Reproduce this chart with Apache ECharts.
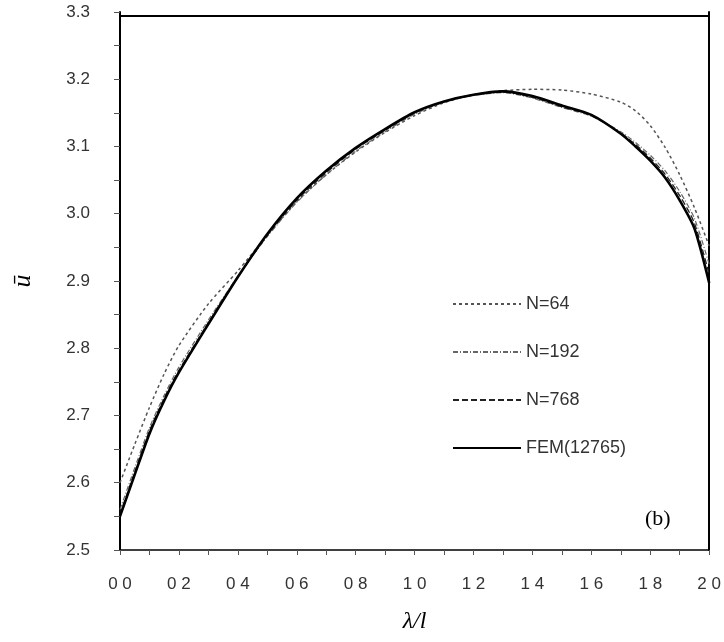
<!DOCTYPE html>
<html>
<head>
<meta charset="utf-8">
<script src="https://cdn.jsdelivr.net/npm/echarts@6/dist/echarts.min.js"></script>
<style>html,body{margin:0;padding:0;background:#fff}#c{width:724px;height:642px}</style>
</head>
<body>
<div id="c"></div>
<script>
// lambda / l sample positions (shared by all series)
const lam = [0, 0.05, 0.1, 0.15, 0.2, 0.3, 0.4, 0.5, 0.6, 0.7, 0.8, 0.9, 1.0, 1.1, 1.2, 1.3, 1.4, 1.5, 1.6, 1.7, 1.75, 1.8, 1.85, 1.9, 1.95, 2.0];
const n64  = [2.600, 2.657, 2.712, 2.762, 2.804, 2.866, 2.915, 2.968, 3.018, 3.058, 3.092, 3.121, 3.146, 3.165, 3.177, 3.183, 3.185, 3.184, 3.178, 3.166, 3.153, 3.131, 3.099, 3.058, 3.009, 2.952];
const n192 = [2.560, 2.622, 2.682, 2.730, 2.772, 2.842, 2.907, 2.966, 3.017, 3.058, 3.093, 3.122, 3.148, 3.166, 3.176, 3.180, 3.172, 3.158, 3.145, 3.122, 3.106, 3.087, 3.064, 3.033, 2.993, 2.925];
const n768 = [2.553, 2.616, 2.677, 2.726, 2.767, 2.838, 2.906, 2.968, 3.020, 3.061, 3.096, 3.124, 3.150, 3.167, 3.177, 3.181, 3.173, 3.159, 3.146, 3.120, 3.103, 3.083, 3.059, 3.027, 2.986, 2.910];
const fem  = [2.550, 2.612, 2.673, 2.722, 2.764, 2.836, 2.906, 2.970, 3.023, 3.064, 3.098, 3.126, 3.151, 3.167, 3.177, 3.182, 3.175, 3.161, 3.147, 3.119, 3.100, 3.079, 3.054, 3.020, 2.978, 2.897];
const seriesNames = ['N=64', 'N=192', 'N=768', 'FEM(12765)'];
const xTicks = [0, 0.2, 0.4, 0.6, 0.8, 1.0, 1.2, 1.4, 1.6, 1.8, 2.0];
const yTicks = [2.5, 2.6, 2.7, 2.8, 2.9, 3.0, 3.1, 3.2, 3.3];

const pairs = v => lam.map((x, i) => [x, v[i]]);
const styles = [
  {color: '#555', width: 1.5, type: [3, 3]},
  {color: '#666', width: 1.2, type: [5, 2, 1, 2]},
  {color: '#222', width: 1.3, type: [6, 3]},
  {color: '#000', width: 2.6, type: 'solid'}
];
const vals = [n64, n192, n768, fem];

const chart = echarts.init(document.getElementById('c'));
chart.setOption({
  backgroundColor: '#fff',
  animation: false,
  title: {
    text: '(b)', left: 640, top: 503,
    textStyle: {fontFamily: 'Liberation Serif', fontSize: 22, fontWeight: 'normal', color: '#000'}
  },
  legend: {
    orient: 'vertical', left: 447, top: 290,
    itemWidth: 68, itemHeight: 14, itemGap: 30,
    data: seriesNames,
    itemStyle: {opacity: 0},
    textStyle: {fontFamily: 'Liberation Sans', fontSize: 18, color: '#333'}
  },
  grid: {left: 120, right: 14, top: 12, bottom: 92},
  xAxis: [{
    type: 'value', min: xTicks[0], max: xTicks[xTicks.length - 1], interval: 0.2,
    name: 'λ/l', nameLocation: 'middle', nameGap: 60,
    nameTextStyle: {fontFamily: 'Liberation Serif', fontStyle: 'italic', fontSize: 24, color: '#000'},
    axisLine: {lineStyle: {color: '#000', width: 1.5}},
    axisTick: {length: 5, lineStyle: {color: '#555'}},
    minorTick: {show: true, splitNumber: 2, length: 5, lineStyle: {color: '#555'}},
    splitLine: {show: false},
    axisLabel: {margin: 26, fontFamily: 'Liberation Sans', fontSize: 17, color: '#333',
      formatter: v => v.toFixed(1).replace('.', ' ')}
  }, {
    type: 'value', position: 'top', offset: -4, min: 0, max: 2,
    axisLine: {show: true, onZero: false, lineStyle: {color: '#000', width: 1.8}},
    axisTick: {show: false}, axisLabel: {show: false}, splitLine: {show: false}
  }],
  yAxis: [{
    type: 'value', min: yTicks[0], max: yTicks[yTicks.length - 1], interval: 0.1,
    name: 'ū', nameLocation: 'middle', nameGap: 84,
    nameTextStyle: {fontFamily: 'Liberation Serif', fontStyle: 'italic', fontSize: 26, color: '#000'},
    axisLine: {show: true, lineStyle: {color: '#000', width: 2}},
    axisTick: {show: true, length: 6, lineStyle: {color: '#555'}},
    minorTick: {show: true, splitNumber: 2, length: 6, lineStyle: {color: '#555'}},
    splitLine: {show: false},
    axisLabel: {margin: 30, fontFamily: 'Liberation Sans', fontSize: 17, color: '#333',
      formatter: v => v.toFixed(1)}
  }, {
    type: 'value', position: 'right', min: 2.5, max: 3.3,
    axisLine: {show: true, onZero: false, lineStyle: {color: '#000', width: 2}},
    axisTick: {show: false}, axisLabel: {show: false}, splitLine: {show: false}
  }],
  series: seriesNames.map((nm, k) => ({
    name: nm, type: 'line', xAxisIndex: 0, yAxisIndex: 0,
    data: pairs(vals[k]), showSymbol: false, symbol: 'none', smooth: 0.25,
    lineStyle: styles[k], itemStyle: {color: styles[k].color}, z: 2 + k
  }))
});
</script>
</body>
</html>
